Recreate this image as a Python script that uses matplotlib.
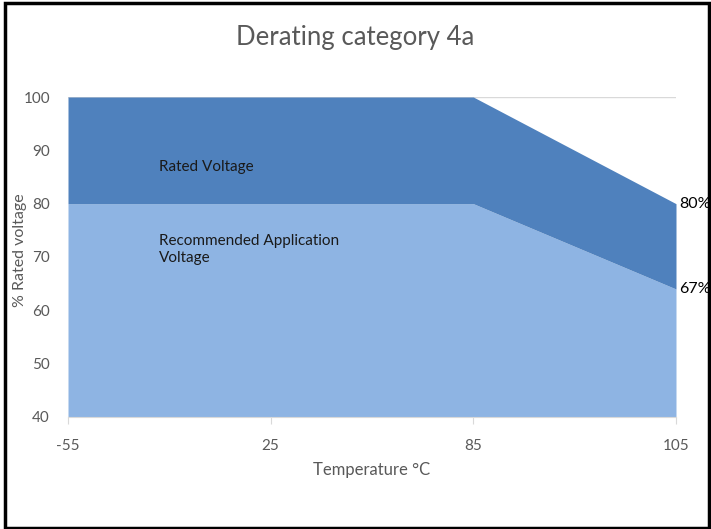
import matplotlib
matplotlib.use("Agg")
import matplotlib.pyplot as plt
from matplotlib.patches import Rectangle

categories = ["-55", "25", "85", "105"]
rated = [100, 100, 100, 80]
recommended = [80, 80, 80, 64]
end_labels = ["80%", "67%"]
title = "Derating category 4a"

plt.rcParams['font.family'] = ['Lato', 'DejaVu Sans']

fig = plt.figure(figsize=(7.11, 5.29), dpi=100)
ax = fig.add_axes([68/711, 1-417/529, (676-68)/711, (417-97)/529])

x = list(range(len(categories)))
ax.axhline(100, color="#D9D9D9", lw=1, zorder=1)
ax.fill_between(x, 40, recommended, color="#8EB4E3", lw=0, zorder=2)
ax.fill_between(x, recommended, rated, color="#4F81BD", lw=0, zorder=2)

ax.set_xlim(0, 3)
ax.set_ylim(40, 100)
ax.set_yticks([40, 50, 60, 70, 80, 90, 100])
ax.set_xticks(x)
ax.set_xticklabels(categories)
for s in ["top", "right", "left"]:
    ax.spines[s].set_visible(False)
ax.spines["bottom"].set_color("#D9D9D9")
ax.tick_params(axis="y", length=0, pad=13, labelsize=11, labelcolor="#595959")
ax.tick_params(axis="x", length=5, color="#D9D9D9", pad=11, labelsize=11, labelcolor="#595959")

ax.set_xlabel("Temperature °C", fontsize=12, color="#595959", labelpad=6)
ax.set_ylabel("% Rated voltage", fontsize=11.5, color="#595959", va="center")
ax.yaxis.set_label_coords(-48/608, 0.52)
fig.text(0.5, 1-37/529, title, ha="center", va="center", fontsize=18.5, color="#595959")

ax.text(0.45, 86.8, "Rated Voltage", fontsize=11, color="#1a1a1a", va="center")
ax.text(0.45, 71.4, "Recommended Application\nVoltage", fontsize=11, color="#1a1a1a",
        va="center", linespacing=1.35)

ax.text(3.015, rated[-1], end_labels[0], fontsize=11.5, color="black", va="center", ha="left", clip_on=False)
ax.text(3.015, recommended[-1], end_labels[1], fontsize=11.5, color="black", va="center", ha="left", clip_on=False)

fig.patches.append(Rectangle((5/711, 1.5/529), 704/711, 525/529, transform=fig.transFigure,
                             fill=False, ec="black", lw=2.5))

fig.savefig("out.png", dpi=100)
